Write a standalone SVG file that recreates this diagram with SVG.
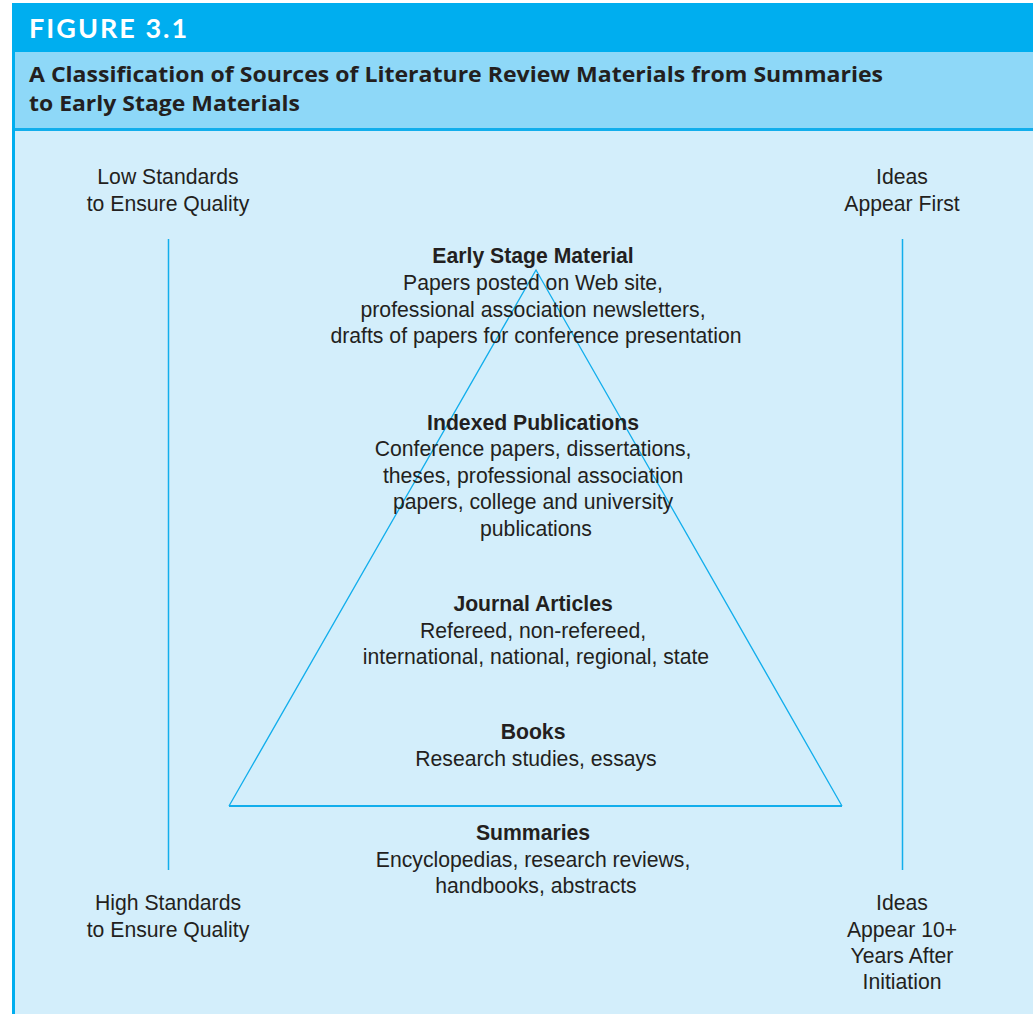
<svg xmlns="http://www.w3.org/2000/svg" width="1033" height="1014" viewBox="0 0 1033 1014">
  <style>
    .lbl { font-family: "Liberation Sans", Arial, sans-serif; font-size: 21.2px; fill: #231f20; text-anchor: middle; }
    .hd { font-weight: bold; }
    .rule { stroke: #12aeec; fill: none; }
  </style>
  <!-- page background and frame -->
  <rect x="0" y="0" width="1033" height="1014" fill="#ffffff"/>
  <rect x="12" y="3" width="1021" height="1011" fill="#d3eefb"/>
  <rect x="12" y="3" width="1021" height="49" fill="#00aeef"/>
  <rect x="12" y="52" width="1021" height="76" fill="#8ed8f8"/>
  <rect x="12" y="128" width="1021" height="3" fill="#12aeec"/>
  <rect x="12" y="3" width="3" height="1011" fill="#00aeef"/>

  <g id="header">
    <text x="29" y="38" font-family="Lato, 'Liberation Sans', sans-serif" font-weight="bold" font-size="27" letter-spacing="2" fill="#ffffff">FIGURE 3.1</text>
    <text font-family="'Open Sans', 'Liberation Sans', sans-serif" font-weight="bold" font-size="20.5" fill="#231f20">
      <tspan x="29" y="82" textLength="854" lengthAdjust="spacingAndGlyphs">A Classification of Sources of Literature Review Materials from Summaries</tspan>
      <tspan x="29" y="111" textLength="271" lengthAdjust="spacingAndGlyphs">to Early Stage Materials</tspan>
    </text>
  </g>

  <!-- pyramid outline and side scales -->
  <g id="connectors">
    <path class="rule" stroke-width="1.3" d="M229,806 L536,270 L842,806"/>
    <line class="rule" stroke-width="2" x1="229" y1="806" x2="842" y2="806"/>
    <line class="rule" stroke-width="1.5" x1="168.5" y1="239" x2="168.5" y2="870"/>
    <line class="rule" stroke-width="1.5" x1="902.5" y1="239" x2="902.5" y2="870"/>
  </g>

  <g id="low-standards">
    <text class="lbl"><tspan x="168" y="184">Low Standards</tspan><tspan x="168" y="211">to Ensure Quality</tspan></text>
  </g>
  <g id="ideas-first">
    <text class="lbl"><tspan x="902" y="184">Ideas</tspan><tspan x="902" y="211">Appear First</tspan></text>
  </g>
  <g id="high-standards">
    <text class="lbl"><tspan x="168" y="910">High Standards</tspan><tspan x="168" y="937">to Ensure Quality</tspan></text>
  </g>
  <g id="ideas-late">
    <text class="lbl"><tspan x="902" y="910">Ideas</tspan><tspan x="902" y="937">Appear 10+</tspan><tspan x="902" y="963">Years After</tspan><tspan x="902" y="989">Initiation</tspan></text>
  </g>

  <g id="early-stage">
    <text class="lbl">
      <tspan class="hd" x="536" y="263">Early Stage Material</tspan>
      <tspan x="536" y="290">Papers posted on Web site,</tspan>
      <tspan x="536" y="317">professional association newsletters,</tspan>
      <tspan x="536" y="343">drafts of papers for conference presentation</tspan>
    </text>
  </g>
  <g id="indexed">
    <text class="lbl">
      <tspan class="hd" x="536" y="430">Indexed Publications</tspan>
      <tspan x="536" y="456">Conference papers, dissertations,</tspan>
      <tspan x="536" y="483">theses, professional association</tspan>
      <tspan x="536" y="509">papers, college and university</tspan>
      <tspan x="536" y="536">publications</tspan>
    </text>
  </g>
  <g id="journals">
    <text class="lbl">
      <tspan class="hd" x="536" y="611">Journal Articles</tspan>
      <tspan x="536" y="638">Refereed, non-refereed,</tspan>
      <tspan x="536" y="664">international, national, regional, state</tspan>
    </text>
  </g>
  <g id="books">
    <text class="lbl">
      <tspan class="hd" x="536" y="739">Books</tspan>
      <tspan x="536" y="766">Research studies, essays</tspan>
    </text>
  </g>
  <g id="summaries">
    <text class="lbl">
      <tspan class="hd" x="536" y="840">Summaries</tspan>
      <tspan x="536" y="867">Encyclopedias, research reviews,</tspan>
      <tspan x="536" y="893">handbooks, abstracts</tspan>
    </text>
  </g>
</svg>
